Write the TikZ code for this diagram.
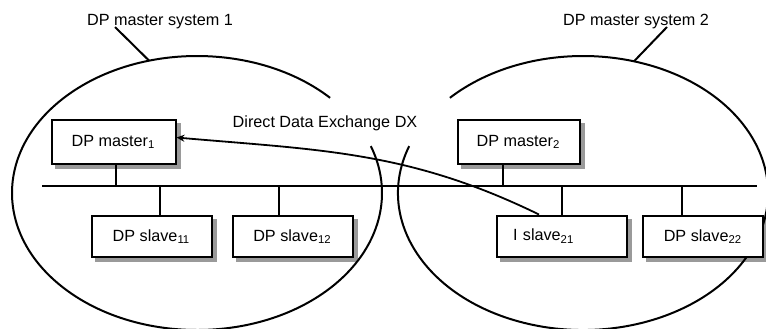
\documentclass[tikz,border=0pt]{standalone}
\usepackage{fontspec}
\setmainfont{Liberation Sans}
\usetikzlibrary{arrows.meta,backgrounds}
\definecolor{shadowgray}{HTML}{9A9A9A}

\begin{document}
\begin{tikzpicture}[x=0.5pt,y=-0.5pt,
  font=\fontsize{8.1}{9.7}\selectfont,
  box/.style={draw=black,line width=1pt,fill=white,minimum width=60pt,
    minimum height=20.5pt,inner sep=1pt},
  mbox/.style={box,minimum width=62pt,minimum height=22pt},
  boxshadow/.style={fill=shadowgray},
  sysline/.style={line width=1pt},
  leader/.style={line width=1pt},
  bus/.style={line width=1.3pt},
  drop/.style={line width=1pt},
  thin drop/.style={line width=0.6pt},
  dx/.style={-{Stealth[length=4pt,width=3.5pt]},line width=0.9pt}]
\useasboundingbox (0,0) rectangle (766,328);
\clip (0,0) rectangle (766,328);
% the two master systems
\coordinate (sys1) at (197,193);
\coordinate (sys2) at (583,193);
\draw[sysline] ([shift={(44:92.5pt and 68.5pt)}]sys1)
  arc[start angle=44,end angle=380,x radius=92.5pt,y radius=68.5pt];
\draw[sysline] ([shift={(160:92.5pt and 68.5pt)}]sys2)
  arc[start angle=160,end angle=496,x radius=92.5pt,y radius=68.5pt];
\node (lbl1) at (160,22) {DP master system 1};
\node (lbl2) at (636,22) {DP master system 2};
\coordinate (tip1) at (115,27);
\coordinate (tip2) at (667,27);
\draw[leader] (tip1) -- ([shift={(105:92.5pt and 68.5pt)}]sys1);
\draw[leader] (tip2) -- ([shift={(74:92.5pt and 68.5pt)}]sys2);
\node (dxlbl) at (325,123) {Direct Data Exchange DX};
% bus
\coordinate (busW) at (42,186);
\coordinate (busE) at (757,186);
\draw[bus] (busW) -- (busE);
% stations
\node[mbox] (m1) at (113.5,142) {DP master\textsubscript{1}};
\node[mbox,minimum width=61pt] (m2) at (518.5,142) {DP master\textsubscript{2}};
\node[box] (s11) at (151.5,236.5) {DP slave\textsubscript{11}};
\node[box] (s12) at (292.5,236.5) {DP slave\textsubscript{12}};
\node[box,minimum width=65pt,text width=49pt,align=left,inner xsep=8pt]
  (s21) at (562,236) {I slave\textsubscript{21}};
\node[box] (s22) at (703,236.5) {DP slave\textsubscript{22}};
% shadows
\begin{scope}[on background layer]
\foreach \n in {m1,m2,s11,s12,s21,s22}
  \path[boxshadow] ([shift={(2.2pt,-2.2pt)}]\n.south west)
    rectangle ([shift={(2.2pt,-2.2pt)}]\n.north east);
\end{scope}
% taps
\coordinate (tapm1) at (116,186);
\coordinate (tapm2) at (503,186);
\coordinate (taps11) at (160,186);
\coordinate (taps12) at (279,186);
\coordinate (taps21) at (562,186);
\coordinate (taps22) at (682,186);
\draw[drop] (tapm1) -- (tapm1 |- m1.south);
\draw[drop] (tapm2) -- (tapm2 |- m2.south);
\draw[drop] (taps11) -- (taps11 |- s11.north);
\draw[thin drop] (taps12) -- (taps12 |- s12.north);
\draw[thin drop] (taps21) -- (taps21 |- s21.north);
\draw[drop] (taps22) -- (taps22 |- s22.north);
% direct data exchange
\draw[dx] ([xshift=-11.5pt]s21.north) to[out=154,in=-5] ([yshift=2.25pt]m1.east);
\end{tikzpicture}
\end{document}
